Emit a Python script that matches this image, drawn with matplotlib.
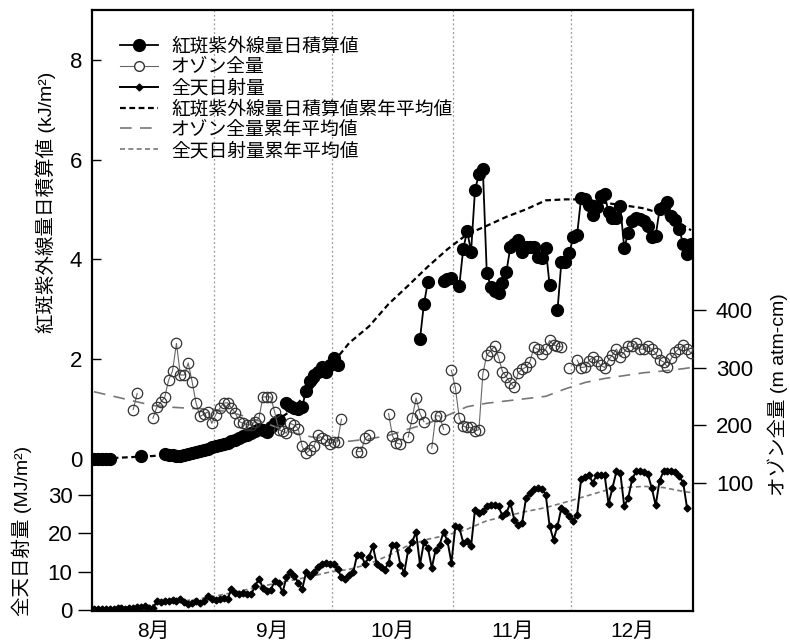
import numpy as np
import matplotlib
matplotlib.use("Agg")
import matplotlib.pyplot as plt
from matplotlib.lines import Line2D

plt.rcParams['font.family'] = ['Liberation Sans', 'Noto Sans CJK JP']

nan = np.nan

# daily values, day 1 = Aug 1 ... day 153 = Dec 31
uv_aug = [0, 0, 0, 0, 0, nan, nan, nan, nan, nan, nan, nan, 0.06, nan, nan, nan, nan, nan,
          0.09, 0.08, 0.07, 0.05, 0.06, 0.08, 0.10, 0.12, 0.14, 0.16, 0.18, 0.20, 0.23]
uv_sep = [0.25, 0.27, 0.30, 0.32, 0.35, 0.38, 0.42, 0.45, 0.48, 0.52,
          0.55, 0.60, 0.58, 0.53, 0.64, 0.72, 0.77, nan, 1.11, 1.06,
          1.01, 1.00, 1.04, 1.35, 1.55, 1.68, 1.74, 1.84, 1.74, 1.88]
uv_oct = [2.01, 1.88] + [nan] * 20 + [2.40, 3.10, 3.54, nan, nan, nan, 3.57, 3.60, 3.63]
uv_nov = [nan, 3.46, 4.20, 4.57, 4.15, 5.38, 5.71, 5.81, 3.73, 3.45,
          3.36, 3.32, 3.53, 3.75, 4.24, 4.31, 4.39, 4.15, 4.24, 4.25,
          4.24, 4.04, 4.02, 4.22, 3.48, nan, 2.97, 3.95, 3.95, 4.12]
uv_dec = [4.44, 4.49, 5.22, 5.20, 5.09, 4.89, 5.04, 5.26, 5.30, 4.94,
          4.82, 4.82, 5.06, 4.22, 4.53, 4.76, 4.82, 4.80, 4.76, 4.67,
          4.44, 4.47, 5.00, 5.04, 5.14, 4.86, 4.79, 4.60, 4.30, 4.10, 4.30]

oz_aug = [nan] * 10 + [227, 255, nan, nan, nan,
                       212, 231, 240, 248, 278, 294, 342, 287, 287, 308,
                       275, 238, 215, 219, 223, 203]
oz_sep = [218, 229, 238, 239, 230, 221, 206, 203, 201, 200,
          206, 212, 249, 249, 249, 223, 192, 189, 186, 203,
          200, 194, 163, 151, 157, 163, 183, 178, 174, 168]
oz_oct = [170, 171, 210, nan, nan, nan, 154, 154, 177, 183,
          nan, nan, nan, nan, 220, 181, 169, 167, nan, 179,
          212, 247, 220, 206, nan, 160, 216, 216, 193, nan, 295]
oz_nov = [265, 212, 198, 196, 196, 190, 192, 289, 322, 329,
          337, 318, 293, 284, 273, 266, 291, 297, 301, 310,
          335, 332, 323, 332, 347, 339, 337, 336, nan, 300]
oz_dec = [nan, 313, 300, 301, 312, 318, 312, 304, 300, 313,
          322, 332, 319, 327, 337, 337, 342, 332, 332, 337,
          332, 325, 313, 310, 301, 316, 327, 333, 339, 333, 325]

sol_aug = [0.3, 0.3, 0.4, 0.4, 0.3, 0.4, 0.5, 0.5, 0.4, 0.5,
           0.6, 0.8, 0.9, 1.0, 0.6, 0.5, 2.3, 2.2, 2.3, 2.5,
           2.6, 2.4, 3.0, 2.1, 1.5, 2.0, 2.3, 1.9, 2.4, 3.6, 3.0]
sol_sep = [2.6, 2.8, 3.2, 3.0, 5.4, 4.5, 4.3, 4.4, 4.2, 4.1,
           6.2, 8.2, 5.8, 5.0, 5.3, 7.5, 7.1, 4.6, 8.5, 9.8,
           9.0, 7.1, 5.4, 9.8, 8.8, 10.0, 11.1, 12.0, 12.3, 12.1]
sol_oct = [12.0, 10.8, 8.5, 8.2, 9.2, 9.8, 14.4, 14.4, 12.0, 13.8,
           16.6, 12.0, 11.3, 10.5, 12.3, 17.0, 16.8, 11.8, 9.7, 15.7,
           17.7, 20.3, 11.8, 17.7, 16.2, 11.0, 15.7, 17.0, 20.3, 17.9, 12.3]
sol_nov = [21.8, 21.5, 17.5, 18.0, 16.6, 26.1, 25.2, 25.8, 26.9, 27.4,
           27.4, 26.9, 24.4, 25.2, 27.8, 23.5, 22.2, 22.6, 29.1, 30.4,
           31.5, 31.7, 31.5, 30.0, 21.8, 18.3, 21.8, 26.5, 25.6, 24.4]
sol_dec = [23.2, 24.8, 33.9, 34.5, 35.0, 33.1, 35.0, 35.0, 35.0, 27.6,
           31.7, 36.0, 35.6, 26.9, 29.1, 33.9, 36.0, 36.0, 35.9, 35.2,
           31.7, 27.2, 33.6, 36.0, 36.0, 36.0, 35.9, 34.7, 33.1, 26.4, nan]

# climatological means, read every 5 days
mean_days = list(range(1, 153, 5)) + [153]
uv_mean = [0.0, 0.01, 0.03, 0.05, 0.09, 0.16, 0.25, 0.37, 0.50, 0.68, 0.95, 1.37, 1.84,
           2.32, 2.65, 3.10, 3.47, 3.85, 4.20, 4.50, 4.67, 4.85, 5.00, 5.18, 5.20, 5.20,
           5.13, 5.08, 5.02, 4.90, 4.68, 4.58]
oz_mean = [258, 250, 242, 234, 231, 229, 228, 222, 212, 200, 188, 180, 175, 172, 176, 182,
           193, 203, 217, 232, 238, 242, 246, 250, 263, 274, 281, 286, 291, 294, 298, 300]
sol_mean = [0.4, 0.6, 0.9, 1.4, 2.0, 2.7, 3.5, 4.5, 5.6, 6.7, 7.7, 8.7, 9.9, 10.6, 12.0, 14.2,
            16.8, 18.4, 19.5, 21.0, 23.2, 24.4, 25.6, 26.6, 28.0, 29.5, 31.0, 31.8, 32.1,
            31.8, 30.8, 30.5]

month_edges = [31.5, 61.5, 92.5, 122.5]
month_mid = [16, 46.5, 77, 107.5, 138]
month_labels = ['8月', '9月', '10月', '11月', '12月']

days = np.arange(1, 154)
uv = np.array(uv_aug + uv_sep + uv_oct + uv_nov + uv_dec, dtype=float)
oz = np.array(oz_aug + oz_sep + oz_oct + oz_nov + oz_dec, dtype=float)
sol = np.array(sol_aug + sol_sep + sol_oct + sol_nov + sol_dec, dtype=float)

fig = plt.figure(figsize=(7.9, 6.43), dpi=100)
ax = fig.add_axes([92 / 790, 32 / 643, 601 / 790, 601 / 643])
ax_sol = ax.twinx()
ax_oz = ax.twinx()

for x in month_edges:
    ax.axvline(x, color='#999999', ls=(0, (1.5, 2)), lw=0.9, zorder=0)

# UV (left, upper)
ax.plot(mean_days, uv_mean, color='black', lw=1.6, ls=(0, (2.6, 1.6)), zorder=2)
ax.plot(days, uv, color='black', lw=1.3, marker='o', ms=8.5, zorder=3)
ax.set_xlim(0.5, 153.5)
ax.set_ylim(-3.06, 9.0)
ax.set_yticks([0, 2, 4, 6, 8])
ax.tick_params(axis='y', direction='in', length=6.5, width=1, labelsize=16, pad=7)
ax.set_xticks(month_mid, month_labels)
ax.tick_params(axis='x', length=0, labelsize=15, pad=8)
for s in ax.spines.values():
    s.set_linewidth(1.6)

# global solar radiation (left, lower)
ax_sol.plot(mean_days, sol_mean, color='#777777', lw=1.2, ls=(0, (3, 2)), zorder=2)
ax_sol.plot(days, sol, color='black', lw=1.4, marker='D', ms=3.5, zorder=3)
ax_sol.set_ylim(-0.2, 155.6)
ax_sol.set_yticks([0, 10, 20, 30])
ax_sol.yaxis.tick_left()
ax_sol.tick_params(axis='y', direction='out', length=10, width=1, labelsize=16, pad=4)
for s in ax_sol.spines.values():
    s.set_visible(False)

# total ozone (right)
ax_oz.plot(mean_days, oz_mean, color='#777777', lw=1.2, ls=(0, (7, 5)), zorder=2)
ax_oz.plot(days, oz, color='#666666', lw=0.8, marker='o', ms=7.5, mfc='none',
           mec='#333333', mew=0.9, zorder=3)
ax_oz.set_ylim(-122.9, 921.1)
ax_oz.set_yticks([100, 200, 300, 400])
ax_oz.tick_params(axis='y', direction='out', length=9.5, width=1, labelsize=16, pad=7)
for s in ax_oz.spines.values():
    s.set_visible(False)

fig.text(46 / 790, 1 - 202 / 643, '紅斑紫外線量日積算値 (kJ/m²)', rotation=90,
         ha='center', va='center', fontsize=14)
fig.text(22 / 790, 1 - 531 / 643, '全天日射量 (MJ/m²)', rotation=90,
         ha='center', va='center', fontsize=14)
fig.text(778 / 790, 1 - 395 / 643, 'オゾン全量 (m atm-cm)', rotation=90,
         ha='center', va='center', fontsize=14)

handles = [
    Line2D([], [], color='black', lw=1.3, marker='o', ms=8.5),
    Line2D([], [], color='#666666', lw=0.8, marker='o', ms=7, mfc='white', mec='#333333'),
    Line2D([], [], color='black', lw=1.4, marker='D', ms=3.5),
    Line2D([], [], color='black', lw=1.6, ls=(0, (2.6, 1.6))),
    Line2D([], [], color='#777777', lw=1.2, ls=(0, (7, 5))),
    Line2D([], [], color='#777777', lw=1.2, ls=(0, (3, 2))),
]
labels = ['紅斑紫外線量日積算値', 'オゾン全量', '全天日射量',
          '紅斑紫外線量日積算値累年平均値', 'オゾン全量累年平均値', '全天日射量累年平均値']
ax_oz.legend(handles, labels, loc='upper left', bbox_to_anchor=(0.047, 0.954),
             frameon=False, fontsize=13.5, handlelength=2.0, handletextpad=0.7,
             labelspacing=0.18, borderpad=0, borderaxespad=0)

fig.savefig('out.png', dpi=100)
